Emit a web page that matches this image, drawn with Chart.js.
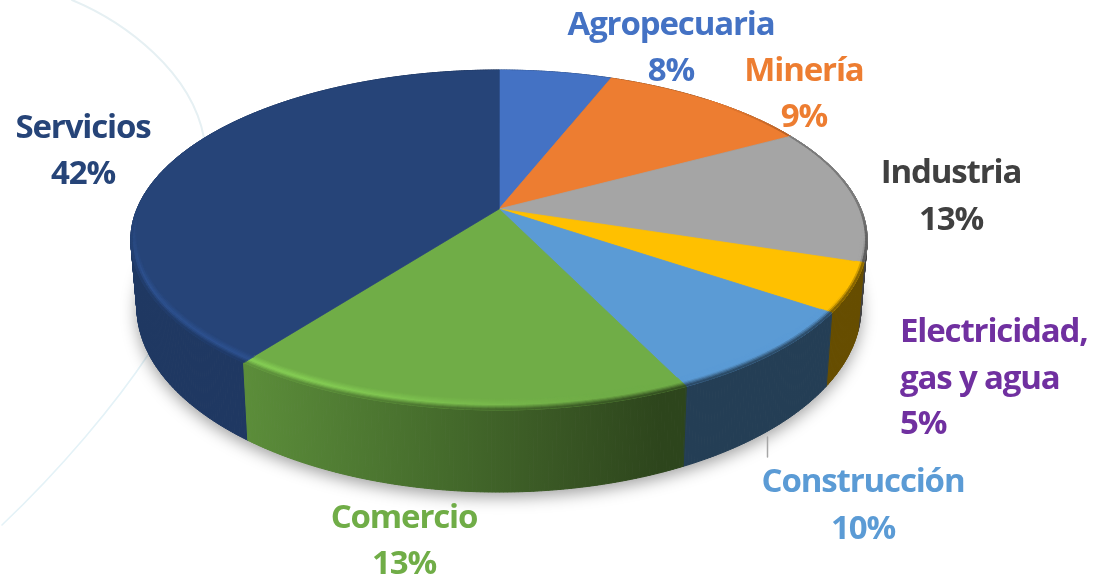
<!DOCTYPE html>
<html><head><meta charset="utf-8">
<style>html,body{margin:0;padding:0;background:#fff}canvas{display:block}</style>
<script src="https://cdn.jsdelivr.net/npm/chart.js@4"></script>
</head><body><canvas id="c" width="1094" height="576"></canvas>
<script>
const categories = ['Agropecuaria','Minería','Industria','Electricidad, gas y agua','Construcción','Comercio','Servicios'];
// Percentages printed on the chart's labels.
const printedPercent = [8, 9, 13, 5, 10, 13, 42];
// Slice sizes as actually drawn in the picture (they differ slightly from the printed labels).
const drawnShare = [5.9, 11.1, 13, 4.6, 8.3, 17.4, 39.7];
const sliceColors = ['#4472c4','#ed7d31','#a5a5a5','#ffc000','#5b9bd5','#70ad47','#264478'];
const labelColors = ['#4472c4','#ed7d31','#404040','#7030a0','#5b9bd5','#70ad47','#264478'];

const FONT = '700 33px "Open Sans"';
const SPACING = '-1.15px';
const labelLayout = [
  {lines:['Agropecuaria'], x:671, y:[35,81], align:'center'},
  {lines:['Minería'], x:804, y:[81,127], align:'center'},
  {lines:['Industria'], x:951, y:[183,230], align:'center'},
  {lines:['Electricidad,','gas y agua'], x:900, y:[342,389,434], align:'left'},
  {lines:['Construcción'], x:863, y:[492,539], align:'center'},
  {lines:['Comercio'], x:404, y:[528,574], align:'center'},
  {lines:['Servicios'], x:83, y:[138,184], align:'center'}
];

const K = -0.1824;
const TOP = {a:362, b:126.2, c:209};
const BOT = {a:356, b:129, c:273.3};
const CX = 499;
function proj(m, x, y){ const d = 1 + K*y; return [CX + m.a*x/d, (m.c + m.b*y)/d]; }
function onCircle(m, th, r=1){ return proj(m, r*Math.cos(th), r*Math.sin(th)); }
function rgb(h){ return [1,3,5].map(i=>parseInt(h.substr(i,2),16)); }
function mix(a,b,t){ return a.map((v,i)=>v+(b[i]-v)*t); }
function css(c){ return `rgb(${c.map(v=>Math.round(clamp(v,0,255))).join(',')})`; }
function clamp(v,a,b){ return Math.max(a,Math.min(b,v)); }
function poly(ctx, pts){
  ctx.beginPath(); pts.forEach((p,i)=> i?ctx.lineTo(p[0],p[1]):ctx.moveTo(p[0],p[1]));
  ctx.closePath();
}
function quad(ctx, pts, col){
  ctx.fillStyle = col; ctx.strokeStyle = col; ctx.lineWidth = 0.8;
  poly(ctx,pts); ctx.fill(); ctx.stroke();
}
function wallFactor(x){ return clamp(0.82 - (x-240)*0.001, 0.4, 0.82); }
function wallColor(base, x){ return base.map(v=>v*wallFactor(x)); }

const pie3d = {
  id:'pie3d',
  beforeDatasetsDraw(chart){
    const ctx = chart.ctx;
    const arcs = chart.getDatasetMeta(0).data;
    ctx.save();
    // faint background curves
    ctx.lineCap='round';
    ctx.strokeStyle='#e6f0f3'; ctx.lineWidth=2;
    ctx.beginPath(); ctx.moveTo(72,0); ctx.bezierCurveTo(125,22,192,72,204,138); ctx.stroke();
    ctx.strokeStyle='#e4f2f7'; ctx.lineWidth=1.6;
    ctx.beginPath(); ctx.moveTo(150,352); ctx.bezierCurveTo(115,405,60,470,2,525); ctx.stroke();
    // ground shadow
    ctx.save();
    ctx.shadowColor='rgba(0,0,0,0.38)'; ctx.shadowBlur=16; ctx.shadowOffsetY=5; ctx.shadowOffsetX=0;
    ctx.fillStyle='#888';
    const outline=[];
    for(let i=0;i<360;i++) outline.push(onCircle(BOT,i*Math.PI/180));
    poly(ctx,outline); ctx.fill();
    ctx.restore();
    // side walls, shaded left to right, back to front
    const STEP = Math.PI/360;
    ctx.lineWidth=1;
    arcs.map((arc,i)=>({arc,i,s:Math.sin((arc.startAngle+arc.endAngle)/2)}))
      .sort((p,q)=>p.s-q.s)
      .forEach(({arc,i})=>{
        const base=rgb(sliceColors[i]);
        const g=ctx.createLinearGradient(240,0,660,0);
        for(let k=0;k<=4;k++){ const x=240+105*k; g.addColorStop(k/4,css(wallColor(base,x))); }
        ctx.fillStyle=g; ctx.strokeStyle=g;
        for(let t=arc.startAngle;t<arc.endAngle;t+=STEP){
          const e=Math.min(t+STEP,arc.endAngle);
          poly(ctx,[onCircle(TOP,t),onCircle(TOP,e),onCircle(BOT,e),onCircle(BOT,t)]);
          ctx.fill(); ctx.stroke();
        }
      });
    // flat top face
    arcs.forEach((arc,i)=>{
      const pts=[[CX,TOP.c]];
      for(let t=arc.startAngle; t<arc.endAngle; t+=STEP) pts.push(onCircle(TOP,t));
      pts.push(onCircle(TOP,arc.endAngle));
      quad(ctx,pts,sliceColors[i]);
    });
    // bevel ring
    const N=10, RW=0.045, RS=Math.PI/180;
    arcs.forEach((arc,i)=>{
      const base=rgb(sliceColors[i]);
      for(let n=0;n<N;n++){
        const t0=(n+0.5)/N, r1=1-RW+RW*n/N, r2=1-RW+RW*(n+1)/N;
        for(let t=arc.startAngle;t<arc.endAngle;t+=RS){
          const e=Math.min(t+RS,arc.endAngle), m=(t+e)/2;
          const y=Math.sin(m), xc=Math.cos(m);
          const mid=onCircle(TOP,m);
          const w=xc>0?clamp((y+0.75)/0.3,0,1):clamp((y-0.02)/0.35,0,1);
          if(w<=0) continue;
          const sc=clamp(0.2+y*0.8,0.2,1);
          const te=1-(1-t0)/sc;
          if(te<0) continue;
          const hi=base.map(v=>Math.min(255,v*(1+0.2*clamp((600-mid[0])/300,0,1))));
          const wl=wallColor(base,mid[0]);
          const c=te<0.55?mix(base,hi,te/0.55):mix(hi,wl,(te-0.55)/0.45);
          quad(ctx,[onCircle(TOP,t,r1),onCircle(TOP,e,r1),onCircle(TOP,e,r2),onCircle(TOP,t,r2)],css(mix(base,c,w)));
        }
      }
    });
    // leader line
    ctx.strokeStyle='#a6a6a6'; ctx.lineWidth=1.5;
    ctx.beginPath(); ctx.moveTo(767.5,437); ctx.lineTo(767.5,457); ctx.stroke();
    ctx.restore();
    return false;
  },
  afterDraw(chart){
    const ctx=chart.ctx;
    ctx.save();
    ctx.font=FONT; ctx.textBaseline='alphabetic'; ctx.letterSpacing=SPACING;
    labelLayout.forEach((l,i)=>{
      ctx.fillStyle=labelColors[i]; ctx.textAlign=l.align;
      const lines=[...l.lines, printedPercent[i]+'%'];
      lines.forEach((s,j)=>ctx.fillText(s,l.x,l.y[j]));
    });
    ctx.restore();
  }
};

new Chart(document.getElementById('c'),{
  type:'pie',
  data:{labels:categories,datasets:[{data:drawnShare,backgroundColor:sliceColors,borderWidth:0}]},
  options:{responsive:false,animation:false,events:[],
    plugins:{legend:{display:false},tooltip:{enabled:false}}},
  plugins:[pie3d]
});
</script></body></html>
